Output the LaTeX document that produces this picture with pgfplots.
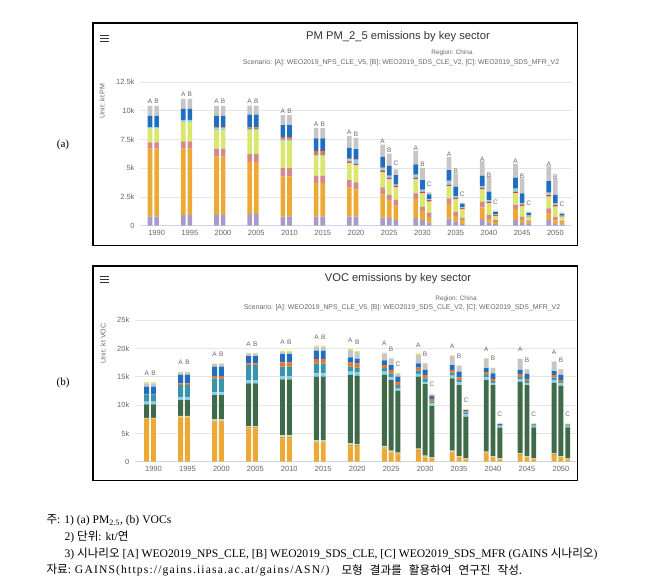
\documentclass[border=0pt]{standalone}
\usepackage{fontspec}
\setmainfont{Liberation Serif}
\newfontfamily\cf{Liberation Sans}
\newfontfamily\kr{Noto Sans CJK KR}
\usepackage{pgfplots}
\usepackage{pgfplotstable}
\pgfplotsset{compat=1.18}

\definecolor{hctext}{HTML}{666666}
\definecolor{hctitle}{HTML}{333333}
\definecolor{hcgrid}{HTML}{E6E6E6}
\definecolor{hcaxis}{HTML}{CCD6EB}
% PM colours
\definecolor{cpu}{HTML}{A99BC9}
\definecolor{cor}{HTML}{ECA935}
\definecolor{cpk}{HTML}{D38A8C}
\definecolor{cyg}{HTML}{D9E76C}
\definecolor{crd}{HTML}{D83A63}
\definecolor{ccy}{HTML}{86D0EA}
\definecolor{cdo}{HTML}{E8772E}
\definecolor{cbl}{HTML}{1F6EC2}
\definecolor{cgr}{HTML}{C6C6C6}
% VOC extra colours
\definecolor{cdg}{HTML}{3F6B4A}
\definecolor{cte}{HTML}{3A94AB}
\definecolor{cye}{HTML}{F2E27C}

\pgfplotstableread{
x lab pu or pk yg rd cy do bl gr
-0.2 A .78 5.91 .55 1.19 0 .15 0 .98 .85
0 B .78 5.91 .55 1.19 0 .15 0 .98 .85
0.8 A .93 5.76 .64 1.68 0 .19 0 .97 .85
1 B .93 5.76 .64 1.68 0 .19 0 .97 .85
1.8 A .93 5.06 .70 1.65 0 .11 .10 1.01 .85
2 B .93 5.06 .70 1.65 0 .11 .10 1.01 .85
2.8 A 1.02 4.50 .73 2.01 0 .14 .15 1.10 .79
3 B 1.02 4.50 .73 2.01 0 .14 .15 1.10 .79
3.8 A .78 3.49 .76 2.30 0 .14 .23 1.05 .87
4 B .78 3.49 .76 2.30 0 .14 .23 1.05 .87
4.8 A .78 2.91 .64 1.69 0 .14 .35 1.08 .90
5 B .78 2.91 .64 1.69 0 .14 .35 1.08 .90
5.8 A .78 2.52 .66 1.50 .12 .18 .06 .94 1.04
6 B .78 2.37 .61 1.50 .14 .30 .05 .90 .98
6.8 A .69 2.03 .60 1.33 .15 .23 .05 .90 1.07
7 B .64 1.53 .49 1.36 .13 .15 .04 .86 1.07
7.2 C .49 1.24 .50 1.09 .13 .10 .03 .81 .49
7.8 A .64 1.67 .49 1.22 .13 .25 .05 .87 1.15
8 B .49 .78 .38 1.15 .13 .15 .04 .84 1.07
8.2 C .26 .46 .41 .95 .12 .08 .02 .42 .17
8.8 A .61 1.27 .49 1.07 .13 .28 .05 .93 1.15
9 B .35 .49 .37 1.07 .12 .15 .03 .80 1.16
9.2 C .14 .35 .20 .76 .07 .06 .02 .28 .12
9.8 A .55 1.04 .49 1.07 .13 .14 .04 .88 1.27
10 B .26 .29 .37 1.02 .12 .12 .02 .75 1.30
10.2 C .12 .17 .20 .35 .06 .06 .02 .18 .14
10.8 A .49 .93 .37 1.01 .13 .27 .04 .92 1.24
11 B .20 .29 .29 .93 .12 .12 .02 .83 1.30
11.2 C .12 .14 .17 .35 .06 .06 .02 .15 .14
11.8 A .49 .58 .43 1.01 .13 .21 .04 .98 1.30
12 B .14 .29 .29 .93 .12 .13 .02 .74 1.39
12.2 C .09 .17 .12 .34 .06 .06 .02 .15 .12
}\pmtab

\pgfplotstableread{
x lab or pk yg dg cy te do bl gr ye
-0.2 A 7.53 .09 .13 2.37 .47 1.29 .07 1.29 .58 .23
0 B 7.53 .09 .13 2.37 .47 1.29 .07 1.29 .58 .23
0.8 A 7.82 .10 .18 2.78 .47 2.18 .27 1.50 .46 .14
1 B 7.82 .10 .18 2.78 .47 2.18 .27 1.50 .46 .14
1.8 A 7.06 .19 .22 4.29 .48 2.46 .40 1.66 .44 .15
2 B 7.06 .19 .22 4.29 .48 2.46 .40 1.66 .44 .15
2.8 A 5.88 .22 .20 7.52 .58 2.66 .29 1.30 .45 .10
3 B 5.88 .22 .20 7.52 .58 2.66 .29 1.30 .45 .10
3.8 A 4.12 .28 .30 9.83 .57 1.66 .77 1.47 .40 .20
4 B 4.12 .28 .30 9.83 .57 1.66 .77 1.47 .40 .20
4.8 A 3.35 .25 .22 11.18 .60 1.75 .75 1.50 .70 .20
5 B 3.35 .25 .22 11.18 .60 1.75 .75 1.50 .70 .20
5.8 A 2.65 .30 .29 12.06 .60 .86 .71 .93 1.30 .30
6 B 2.76 .19 .15 12.10 .60 .80 .75 .85 1.20 .15
6.8 A 2.35 .20 .25 12.50 .60 .60 .56 .84 1.20 .15
7 B 1.65 .15 .14 12.46 .50 .70 .60 .86 1.14 .10
7.2 C 1.30 .15 .15 10.90 .40 .60 .60 .90 .50 .20
7.8 A 1.90 .20 .20 12.70 .50 .60 .50 .75 1.45 .30
8 B .76 .14 .16 12.64 .40 .60 .60 .90 1.15 .10
8.2 C .60 .08 .08 9.04 .50 .30 .50 .50 .30 .10
8.8 A 1.60 .18 .16 12.76 .50 .50 .50 .86 1.59 .10
9 B .70 .15 .15 12.50 .50 .40 .50 1.00 1.00 .10
9.2 C .40 .10 .10 7.34 .41 .30 .25 .20 .10 .10
9.8 A 1.47 .17 .16 12.60 .50 .40 .40 .80 1.70 .10
10 B .70 .15 .15 12.50 .40 .30 .40 1.00 .90 .10
10.2 C .40 .10 .10 5.40 .30 .10 .10 .15 .11 .09
10.8 A 1.18 .15 .14 12.63 .50 .40 .50 .70 1.90 .10
11 B .70 .15 .15 12.50 .40 .30 .40 .90 .80 .10
11.2 C .40 .10 .10 5.46 .24 .10 .10 .10 .10 .10
11.8 A 1.18 .15 .14 12.43 .50 .50 .40 .70 1.60 .10
12 B .70 .15 .15 12.40 .40 .30 .30 .90 1.00 .10
12.2 C .40 .10 .10 5.46 .24 .10 .10 .05 .10 .10
}\voctab

\pgfplotsset{
  hc/.style={
    scale only axis,
    ybar stacked,
    bar width=0.14,
    axis line style={draw=none},
    major tick length=0pt,
    ymajorgrids,
    grid style={hcgrid, line width=0.6pt},
    xtick={0,...,12},
    xticklabels={1990,1995,2000,2005,2010,2015,2020,2025,2030,2035,2040,2045,2050},
    ticklabel style={font=\cf\fontsize{7.5}{8}\selectfont, text=hctext},
    xticklabel style={yshift=-1pt},
    yticklabel style={xshift=-2pt},
    ymin=0,
    clip=false,
    every node near coord/.append style={font=\cf\fontsize{6.5}{7}\selectfont, text=hctext, anchor=south, yshift=3.5pt},
  },
  seg/.style={fill=#1, draw=none},
}

\begin{document}
\begin{tikzpicture}
\begin{scope}[x=1pt,y=-1pt]
\path (0,0) rectangle (656,587);
% frames
\draw[black, line width=1.6pt] (93,23) rectangle (577.5,245.5);
\draw[black, line width=1.6pt] (93,266) rectangle (577.5,480.5);
% hamburger icons
\foreach \yy in {35,38,41} {\draw[hctitle, line width=1pt] (100,\yy) -- (109,\yy);}
\foreach \yy in {276,279,282} {\draw[hctitle, line width=1pt] (100,\yy) -- (109,\yy);}
% titles
\node[text=hctitle, font=\cf\fontsize{11.2}{12}\selectfont] at (398,37) {PM PM\_2\_5 emissions by key sector};
\node[text=hctext, font=\cf\fontsize{6.4}{7}\selectfont] at (452,52.5) {Region: China};
\node[text=hctext, font=\cf\fontsize{6.9}{7}\selectfont] at (401,62.5) {Scenario: [A]: WEO2019\_NPS\_CLE\_V5, [B]: WEO2019\_SDS\_CLE\_V2, [C]: WEO2019\_SDS\_MFR\_V2};
\node[text=hctitle, font=\cf\fontsize{11.2}{12}\selectfont] at (398,279) {VOC emissions by key sector};
\node[text=hctext, font=\cf\fontsize{6.4}{7}\selectfont] at (456,299) {Region: China};
\node[text=hctext, font=\cf\fontsize{6.9}{7}\selectfont] at (402,307.5) {Scenario: [A]: WEO2019\_NPS\_CLE\_V5, [B]: WEO2019\_SDS\_CLE\_V2, [C]: WEO2019\_SDS\_MFR\_V2};
% y axis titles
\node[text=hctext, font=\cf\fontsize{7}{8}\selectfont, rotate=90, anchor=east] at (102,80) {Unit: kt PM};
\node[text=hctext, font=\cf\fontsize{7}{8}\selectfont, rotate=90, anchor=east] at (103,320) {Unit: kt VOC};
% panel labels
\node[font=\fontsize{11}{12}\selectfont] at (63,145) {(a)};
\node[font=\fontsize{11}{12}\selectfont] at (63,383) {(b)};
% footnotes
\node[anchor=west, font=\fontsize{11.6}{13}\selectfont] at (43,520) {{\kr 주}: 1) (a) PM\textsubscript{2.5}, (b) VOCs};
\node[anchor=west, font=\fontsize{11.6}{13}\selectfont] at (61,537) {2) {\kr 단위}: kt/{\kr 연}};
\node[anchor=west, font=\fontsize{11.6}{13}\selectfont] at (61,553.5) {3) {\kr 시나리오} [A] WEO2019\_NPS\_CLE, [B] WEO2019\_SDS\_CLE, [C] WEO2019\_SDS\_MFR (GAINS {\kr 시나리오})};
\node[anchor=west, font=\fontsize{11.6}{13}\selectfont] at (43,570) {{\kr 자료}: \addfontfeature{LetterSpace=10}GAINS(https://gains.iiasa.ac.at/gains/ASN/)};
\node[anchor=west, font=\kr\fontsize{11.6}{13}\selectfont] at (338,570) {모형\hspace{7pt}결과를\hspace{7pt}활용하여\hspace{7pt}연구진\hspace{7pt}작성.};
\end{scope}

% ---- panel (a)
\begin{axis}[hc, at={(140pt,-225.5pt)}, anchor=south west,
  width=432pt, height=143.5pt, xmin=-0.5, xmax=12.5, ymax=12.5,
  ytick={0,2.5,5,7.5,10,12.5}, yticklabels={0,2.5k,5k,7.5k,10k,12.5k}]
\addplot[seg=cpu] table[x=x,y=pu] \pmtab;
\addplot[seg=cor] table[x=x,y=or] \pmtab;
\addplot[seg=cpk] table[x=x,y=pk] \pmtab;
\addplot[seg=cyg] table[x=x,y=yg] \pmtab;
\addplot[seg=crd] table[x=x,y=rd] \pmtab;
\addplot[seg=ccy] table[x=x,y=cy] \pmtab;
\addplot[seg=cdo] table[x=x,y=do] \pmtab;
\addplot[seg=cbl] table[x=x,y=bl] \pmtab;
\addplot[seg=cgr, nodes near coords, point meta=explicit symbolic] table[x=x,y=gr,meta=lab] \pmtab;
\draw[hcaxis, line width=0.8pt] (rel axis cs:0,0) -- (rel axis cs:1,0);
\end{axis}

% ---- panel (b)
\begin{axis}[hc, at={(134.8pt,-461.7pt)}, anchor=south west,
  width=441.4pt, height=141.7pt, xmin=-0.55, xmax=12.45, ymax=25,
  ytick={0,5,10,15,20,25}, yticklabels={0,5k,10k,15k,20k,25k}, bar width=0.145]
\addplot[seg=cor] table[x=x,y=or] \voctab;
\addplot[seg=cpk] table[x=x,y=pk] \voctab;
\addplot[seg=cyg] table[x=x,y=yg] \voctab;
\addplot[seg=cdg] table[x=x,y=dg] \voctab;
\addplot[seg=ccy] table[x=x,y=cy] \voctab;
\addplot[seg=cte] table[x=x,y=te] \voctab;
\addplot[seg=cdo] table[x=x,y=do] \voctab;
\addplot[seg=cbl] table[x=x,y=bl] \voctab;
\addplot[seg=cgr] table[x=x,y=gr] \voctab;
\addplot[seg=cye, nodes near coords, point meta=explicit symbolic] table[x=x,y=ye,meta=lab] \voctab;
\draw[hcaxis, line width=0.8pt] (rel axis cs:0,0) -- (rel axis cs:1,0);
\end{axis}
\end{tikzpicture}
\end{document}
